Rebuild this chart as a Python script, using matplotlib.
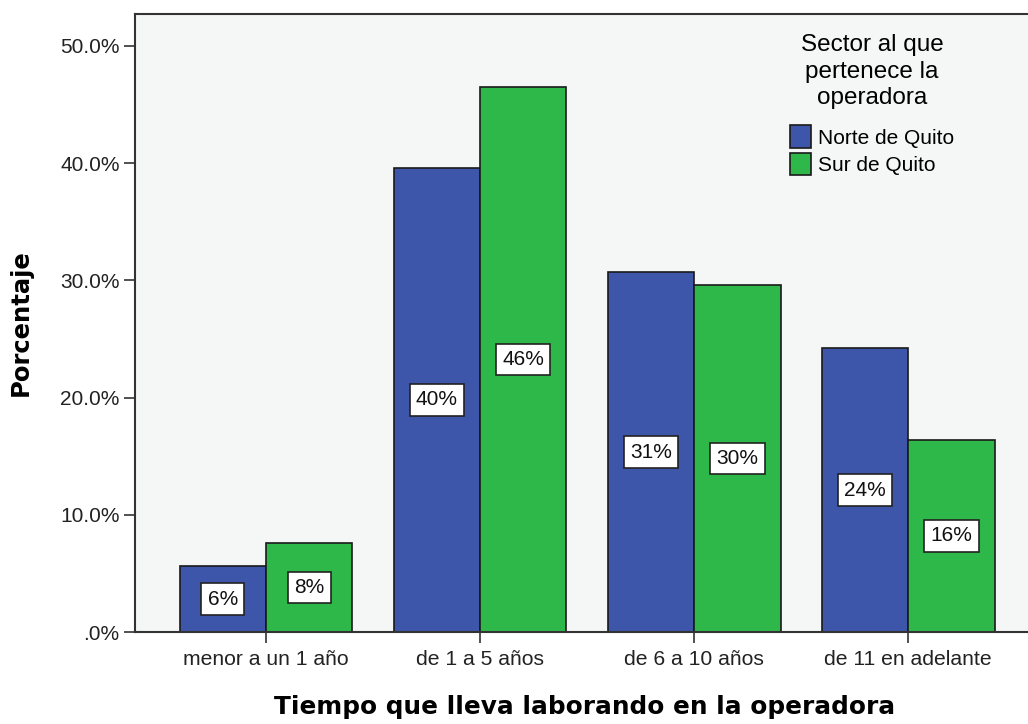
import matplotlib
matplotlib.use("Agg")
import matplotlib.pyplot as plt
import numpy as np

categories = ["menor a un 1 año", "de 1 a 5 años", "de 6 a 10 años", "de 11 en adelante"]
norte = [5.6, 39.6, 30.7, 24.2]
sur = [7.6, 46.5, 29.6, 16.4]
norte_labels = ["6%", "40%", "31%", "24%"]
sur_labels = ["8%", "46%", "30%", "16%"]
series_names = ["Norte de Quito", "Sur de Quito"]
yticks = [0, 10, 20, 30, 40, 50]
ytick_labels = [".0%", "10.0%", "20.0%", "30.0%", "40.0%", "50.0%"]

plt.rcParams['font.family'] = ['Liberation Sans', 'DejaVu Sans']

fig = plt.figure(figsize=(10.28, 7.24), dpi=100)
ax = fig.add_axes([135/1028, 92/724, 1 - 135/1028 + 0.005, 618/724])
ax.set_facecolor("#f5f6f6")

x = np.arange(len(categories))
w = 0.404
c_n = "#3e56aa"
c_s = "#2fb84a"
bn = ax.bar(x - w/2, norte, w, color=c_n, edgecolor="#1a1a1a", linewidth=1.2, label=series_names[0])
bs = ax.bar(x + w/2, sur, w, color=c_s, edgecolor="#1a1a1a", linewidth=1.2, label=series_names[1])

for bars, labs in ((bn, norte_labels), (bs, sur_labels)):
    for b, lab in zip(bars, labs):
        ax.text(b.get_x() + b.get_width()/2, b.get_height()/2, lab, ha="center", va="center",
                fontsize=15, color="#111111",
                bbox=dict(boxstyle="square,pad=0.3", facecolor="white", edgecolor="#222222", linewidth=1.2))

ax.set_xlim(-0.612, -0.612 + 898/214)
ax.set_ylim(0, 52.73)
ax.set_xticks(x)
ax.set_xticklabels(categories, fontsize=15.2, color="#222222")
ax.set_yticks(yticks)
ax.set_yticklabels(ytick_labels, fontsize=15, color="#222222")
ax.tick_params(axis="both", direction="out", length=8, width=1.2, color="#333333", pad=3)
ax.tick_params(axis="x", pad=5)
for s in ax.spines.values():
    s.set_linewidth(1.5)
    s.set_color("#333333")
ax.spines["right"].set_visible(False)

ax.set_ylabel("Porcentaje", fontsize=17.5, fontweight="bold", family="DejaVu Sans", labelpad=20)
ax.set_xlabel("Tiempo que lleva laborando en la operadora", fontsize=17.8, fontweight="bold",
              family="DejaVu Sans", labelpad=19)

leg = ax.legend(title="Sector al que\npertenece la\noperadora", loc="upper left",
                bbox_to_anchor=((782 - 135)/898, 1 - 12/618), frameon=False, fontsize=15,
                title_fontsize=17.5, handlelength=1.0, handleheight=1.25, handletextpad=0.3,
                labelspacing=0.25, borderaxespad=0)
leg.get_title().set_multialignment("center")
leg.get_title().set_linespacing(1.25)
leg._legend_box.sep = 12

fig.savefig("out.png", dpi=100)
